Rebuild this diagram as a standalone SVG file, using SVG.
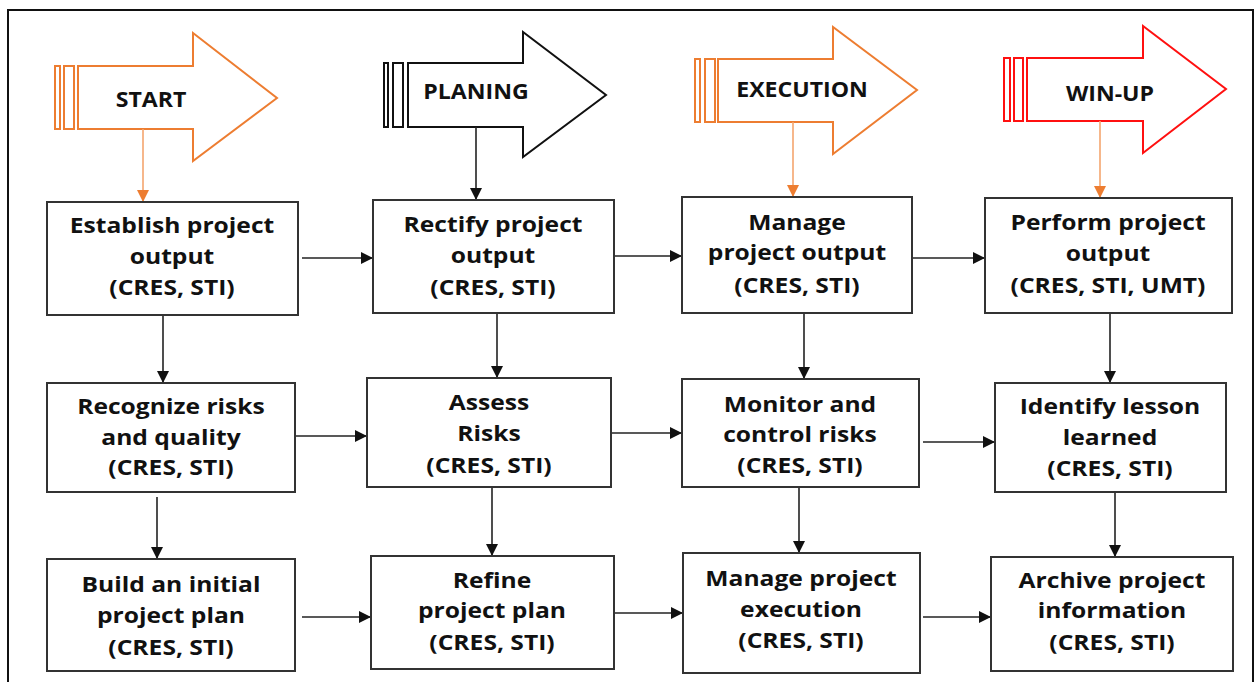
<svg xmlns="http://www.w3.org/2000/svg" width="1256" height="682" viewBox="0 0 1256 682">
<style>
.box{fill:#fff;stroke:#333;stroke-width:2}
.t{font-family:"Open Sans","Liberation Sans",sans-serif;font-weight:700;font-size:22px;fill:#111;text-anchor:middle}
.h{font-family:"Open Sans","Liberation Sans",sans-serif;font-weight:700;font-size:21px;fill:#111;text-anchor:middle}
.c{stroke:#222;stroke-width:1.6;fill:none;marker-end:url(#ah)}
.co{stroke:#F4A56E;stroke-width:1.6;fill:none;marker-end:url(#aho)}
.ao{fill:#fff;stroke:#ED7D31;stroke-width:2}
.ab{fill:#fff;stroke:#111;stroke-width:2}
.ar{fill:#fff;stroke:#FF1010;stroke-width:2}
</style>
<defs>
<marker id="ah" markerWidth="12" markerHeight="12" refX="11" refY="6" orient="auto" markerUnits="userSpaceOnUse"><path d="M0,0 L12,6 L0,12 z" fill="#111"/></marker>
<marker id="aho" markerWidth="12" markerHeight="12" refX="11" refY="6" orient="auto" markerUnits="userSpaceOnUse"><path d="M0,0 L12,6 L0,12 z" fill="#ED7D31"/></marker>
</defs>
<rect x="8" y="10" width="1245" height="700" fill="#fff" stroke="#111" stroke-width="2"/>

<g id="hdr-start">
<rect class="ao" x="55" y="66" width="5" height="63"/>
<rect class="ao" x="64" y="66" width="10" height="63"/>
<polygon class="ao" points="78,66 193,66 193,33 277,98 193,161 193,129 78,129"/>
<text class="h" transform="translate(151 107) scale(1.1 1)">START</text>
</g>
<g id="hdr-planing">
<rect class="ab" x="384" y="63" width="4" height="64"/>
<rect class="ab" x="393" y="63" width="10" height="64"/>
<polygon class="ab" points="408,63 523,63 523,32 606,95 523,157 523,127 408,127"/>
<text class="h" transform="translate(476 99) scale(1.1 1)">PLANING</text>
</g>
<g id="hdr-execution">
<rect class="ao" x="695" y="59" width="5" height="63"/>
<rect class="ao" x="705" y="59" width="10" height="63"/>
<polygon class="ao" points="718,59 833,59 833,27 917,90 833,154 833,122 718,122"/>
<text class="h" transform="translate(802 97) scale(1.1 1)">EXECUTION</text>
</g>
<g id="hdr-winup">
<rect class="ar" x="1004" y="58" width="6" height="63"/>
<rect class="ar" x="1014" y="58" width="9" height="63"/>
<polygon class="ar" points="1027,58 1143,58 1143,26 1226,89 1143,153 1143,121 1027,121"/>
<text class="h" transform="translate(1110 101) scale(1.1 1)">WIN-UP</text>
</g>

<g id="connectors">
<line class="co" x1="143" y1="129" x2="143" y2="201"/>
<line class="c" x1="476" y1="127" x2="476" y2="199"/>
<line class="co" x1="793" y1="122" x2="793" y2="196"/>
<line class="co" x1="1100" y1="121" x2="1100" y2="197"/>

<line class="c" x1="302" y1="258" x2="372" y2="258"/>
<line class="c" x1="614" y1="256" x2="681" y2="256"/>
<line class="c" x1="912" y1="258" x2="984" y2="258"/>

<line class="c" x1="163" y1="315" x2="163" y2="382"/>
<line class="c" x1="497" y1="313" x2="497" y2="377"/>
<line class="c" x1="804" y1="313" x2="804" y2="378"/>
<line class="c" x1="1110" y1="313" x2="1110" y2="382"/>

<line class="c" x1="296" y1="436" x2="366" y2="436"/>
<line class="c" x1="611" y1="433" x2="681" y2="433"/>
<line class="c" x1="923" y1="442" x2="994" y2="442"/>

<line class="c" x1="157" y1="497" x2="157" y2="558"/>
<line class="c" x1="492" y1="487" x2="492" y2="555"/>
<line class="c" x1="799" y1="487" x2="799" y2="552"/>
<line class="c" x1="1115" y1="492" x2="1115" y2="556"/>

<line class="c" x1="302" y1="617" x2="370" y2="617"/>
<line class="c" x1="614" y1="613" x2="682" y2="613"/>
<line class="c" x1="923" y1="617" x2="990" y2="617"/>
</g>

<g id="n11"><rect class="box" x="47" y="202" width="251" height="113"/>
<text class="t" transform="translate(172 0) scale(1.12 1)"><tspan x="0" y="233">Establish project</tspan><tspan x="0" y="264">output</tspan><tspan x="0" y="295">(CRES, STI)</tspan></text></g>
<g id="n12"><rect class="box" x="373" y="200" width="241" height="113"/>
<text class="t" transform="translate(493 0) scale(1.12 1)"><tspan x="0" y="232">Rectify project</tspan><tspan x="0" y="263">output</tspan><tspan x="0" y="295">(CRES, STI)</tspan></text></g>
<g id="n13"><rect class="box" x="682" y="197" width="230" height="116"/>
<text class="t" transform="translate(797 0) scale(1.12 1)"><tspan x="0" y="230">Manage</tspan><tspan x="0" y="260">project output</tspan><tspan x="0" y="293">(CRES, STI)</tspan></text></g>
<g id="n14"><rect class="box" x="985" y="198" width="247" height="115"/>
<text class="t" transform="translate(1108 0) scale(1.12 1)"><tspan x="0" y="230">Perform project</tspan><tspan x="0" y="261">output</tspan><tspan x="0" y="293">(CRES, STI, UMT)</tspan></text></g>

<g id="n21"><rect class="box" x="47" y="383" width="248" height="109"/>
<text class="t" transform="translate(171 0) scale(1.12 1)"><tspan x="0" y="414">Recognize risks</tspan><tspan x="0" y="445">and quality</tspan><tspan x="0" y="475">(CRES, STI)</tspan></text></g>
<g id="n22"><rect class="box" x="367" y="378" width="244" height="109"/>
<text class="t" transform="translate(489 0) scale(1.12 1)"><tspan x="0" y="410">Assess</tspan><tspan x="0" y="441">Risks</tspan><tspan x="0" y="473">(CRES, STI)</tspan></text></g>
<g id="n23"><rect class="box" x="682" y="379" width="237" height="108"/>
<text class="t" transform="translate(800 0) scale(1.12 1)"><tspan x="0" y="412">Monitor and</tspan><tspan x="0" y="442">control risks</tspan><tspan x="0" y="473">(CRES, STI)</tspan></text></g>
<g id="n24"><rect class="box" x="995" y="383" width="231" height="109"/>
<text class="t" transform="translate(1110 0) scale(1.12 1)"><tspan x="0" y="414">Identify lesson</tspan><tspan x="0" y="445">learned</tspan><tspan x="0" y="476">(CRES, STI)</tspan></text></g>

<g id="n31"><rect class="box" x="47" y="559" width="248" height="112"/>
<text class="t" transform="translate(171 0) scale(1.12 1)"><tspan x="0" y="592">Build an initial</tspan><tspan x="0" y="623">project plan</tspan><tspan x="0" y="655">(CRES, STI)</tspan></text></g>
<g id="n32"><rect class="box" x="371" y="556" width="243" height="113"/>
<text class="t" transform="translate(492 0) scale(1.12 1)"><tspan x="0" y="588">Refine</tspan><tspan x="0" y="618">project plan</tspan><tspan x="0" y="650">(CRES, STI)</tspan></text></g>
<g id="n33"><rect class="box" x="683" y="553" width="237" height="120"/>
<text class="t" transform="translate(801 0) scale(1.12 1)"><tspan x="0" y="586">Manage project</tspan><tspan x="0" y="617">execution</tspan><tspan x="0" y="648">(CRES, STI)</tspan></text></g>
<g id="n34"><rect class="box" x="991" y="557" width="242" height="114"/>
<text class="t" transform="translate(1112 0) scale(1.12 1)"><tspan x="0" y="588">Archive project</tspan><tspan x="0" y="618">information</tspan><tspan x="0" y="650">(CRES, STI)</tspan></text></g>
</svg>
